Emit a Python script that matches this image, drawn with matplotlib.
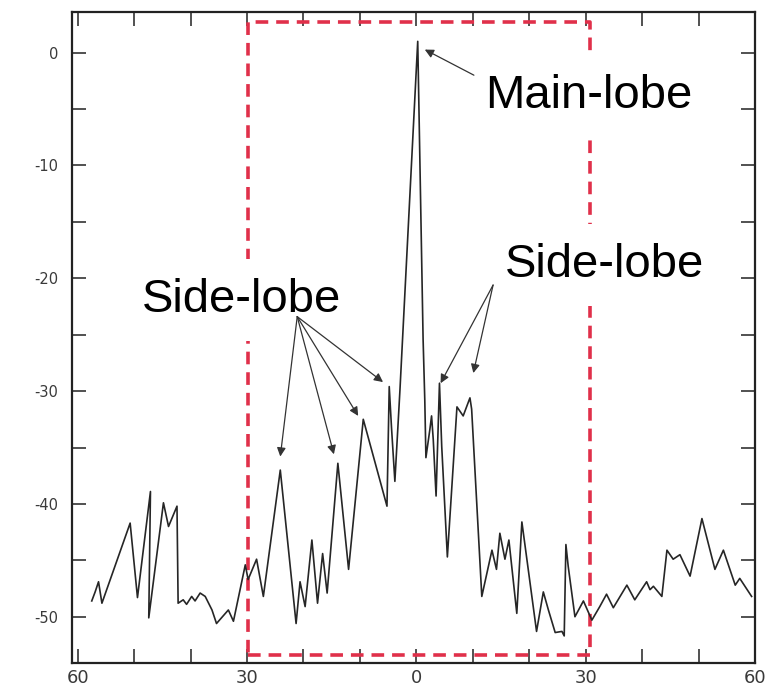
import matplotlib
matplotlib.use("Agg")
import matplotlib.pyplot as plt
from matplotlib.ticker import MultipleLocator, FixedLocator

# ---- data (angle in degrees, response in dB) ----
angle = [-57.5, -56.9, -56.3, -55.7, -50.7, -49.4, -47.1, -47.4, -44.8, -43.9,
         -42.4, -42.2, -41.3, -40.7, -39.8, -39.2, -38.3, -37.4, -36.2, -35.4,
         -33.3, -32.4, -30.3, -29.8, -28.3, -27.1, -24.1, -21.3, -20.6, -19.7,
         -18.5, -17.5, -16.6, -15.8, -13.9, -12.0, -9.4, -5.2, -4.8, -4.4,
         -3.8, -2.9, 0.25, 1.2, 1.5, 1.7, 2.4, 2.7, 3.0, 3.5,
         4.1, 4.5, 5.5, 7.2, 8.3, 9.5, 9.8, 11.6, 13.4, 14.2,
         14.8, 15.7, 16.4, 17.8, 18.7, 21.3, 22.5, 23.4, 24.6, 25.8,
         26.2, 26.5, 26.9, 28.1, 29.6, 31.1, 32.5, 33.7, 34.9, 37.3,
         38.7, 40.8, 41.4, 42.0, 43.5, 44.4, 45.5, 46.7, 48.5, 50.6,
         52.9, 54.4, 56.5, 57.3, 59.4]
response = [-48.6, -47.8, -46.9, -48.8, -41.7, -48.3, -38.9, -50.1, -39.9, -42.0,
            -40.2, -48.8, -48.5, -48.9, -48.2, -48.6, -47.9, -48.2, -49.4, -50.6,
            -49.4, -50.4, -45.4, -46.7, -44.9, -48.2, -37.0, -50.6, -46.9, -49.1,
            -43.2, -48.8, -44.4, -47.9, -36.4, -45.8, -32.5, -40.2, -29.6, -33.2,
            -38.0, -29.9, 1.0, -25.4, -30.8, -35.9, -33.4, -32.2, -34.3, -39.3,
            -29.3, -34.9, -44.7, -31.4, -32.2, -30.6, -31.6, -48.2, -44.1, -45.8,
            -42.6, -44.9, -43.2, -49.7, -41.6, -51.3, -47.8, -49.4, -51.4, -51.3,
            -51.7, -43.6, -45.5, -50.0, -48.6, -50.3, -49.1, -48.0, -49.2, -47.2,
            -48.5, -46.9, -47.6, -47.3, -48.2, -44.1, -44.9, -44.5, -46.4, -41.3,
            -45.8, -44.1, -47.2, -46.6, -48.2]

x_ticks = [-60, -30, 0, 30, 60]
x_tick_labels = ["60", "30", "0", "30", "60"]
y_ticks = [0, -10, -20, -30, -40, -50]
y_tick_labels = ["0", "-10", "-20", "-30", "-40", "-50"]

# highlighted region (dashed red box)
box_x = [-29.8, 30.8]
box_y = [-53.4, 2.75]

# annotations: (text, text position, arrow origin, arrow tips)
main_label = "Main-lobe"
main_text_pos = (12.2, -4.9)
main_arrow_from = (10.2, -2.0)
main_arrow_to = [(1.5, 0.27)]

side_label = "Side-lobe"
left_text_pos = (-48.6, -23.0)
left_arrow_from = (-21.1, -23.4)
left_arrow_to = [(-24.1, -35.8), (-14.6, -35.6), (-10.3, -32.2), (-5.9, -29.2)]
right_text_pos = (15.7, -19.9)
right_arrow_from = (13.6, -20.6)
right_arrow_to = [(4.3, -29.3), (10.1, -28.4)]

# ---- figure ----
fig = plt.figure(figsize=(7.67, 6.95), dpi=100)
ax = fig.add_axes([72 / 767, 32 / 695, (755 - 72) / 767, (663 - 12) / 695])

ax.plot(angle, response, color="#262626", lw=1.2, zorder=3)

ax.set_xlim(-61, 60)
ax.set_ylim(-54.1, 3.6)

# red dashed box
ax.plot([box_x[0], box_x[1], box_x[1], box_x[0], box_x[0]],
        [box_y[0], box_y[0], box_y[1], box_y[1], box_y[0]],
        color="#e0304a", lw=2.6, ls=(0, (3.5, 2.2)), zorder=2)

# ticks
ax.xaxis.set_major_locator(FixedLocator(x_ticks))
ax.set_xticklabels(x_tick_labels)
ax.xaxis.set_minor_locator(MultipleLocator(10))
ax.yaxis.set_major_locator(FixedLocator(y_ticks))
ax.set_yticklabels(y_tick_labels)
ax.yaxis.set_minor_locator(MultipleLocator(5))

ax.tick_params(axis="x", which="both", direction="in", top=True, bottom=True,
               length=10, width=1.2, color="#333333", labelsize=13,
               labelcolor="#3a3a3a", pad=4)
ax.tick_params(axis="y", which="both", direction="in", left=True, right=True,
               length=10, width=1.2, color="#333333", labelsize=10.5,
               labelcolor="#3a3a3a", pad=10)
for s in ax.spines.values():
    s.set_linewidth(1.6)
    s.set_color("#222222")

text_kw = dict(fontsize=34, family=["Liberation Sans", "DejaVu Sans"],
               ha="left", va="baseline", color="black", zorder=5,
               bbox=dict(facecolor="white", edgecolor="none", pad=14))
ax.text(*main_text_pos, main_label, **text_kw)
ax.text(*left_text_pos, side_label, **text_kw)
ax.text(*right_text_pos, side_label, **text_kw)

arrow_kw = dict(arrowstyle="-|>", color="#333333", lw=0.9,
                mutation_scale=13, shrinkA=0, shrinkB=0)

for tip in main_arrow_to:
    ax.annotate("", xy=tip, xytext=main_arrow_from, arrowprops=arrow_kw, zorder=6)
for tip in left_arrow_to:
    ax.annotate("", xy=tip, xytext=left_arrow_from, arrowprops=arrow_kw, zorder=6)
for tip in right_arrow_to:
    ax.annotate("", xy=tip, xytext=right_arrow_from, arrowprops=arrow_kw, zorder=6)

fig.savefig("out.png", dpi=100)
